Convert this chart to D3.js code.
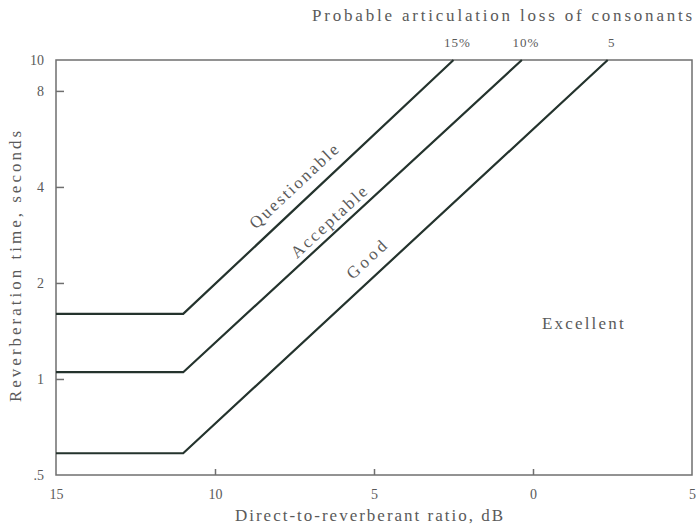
<!DOCTYPE html>
<html>
<head>
<meta charset="utf-8">
<script src="https://cdn.jsdelivr.net/npm/d3@7"></script>
<style>
	body { margin: 0; background: #fff; }
	svg text { font-family: "Liberation Serif", "DejaVu Serif", serif; fill: #5a5a5a; }
</style>
</head>
<body>
<div id="graphic"></div>
<script>
// zone boundary lines: flat floor, knee, then rising to 10 s
const zones = ["Questionable", "Acceptable", "Good"];
const kneeDb = [-11, -11, -11];
const floorT = [1.6, 1.05, 0.585];
const topDb = [-2.5, -0.35, 2.35];
const lossLabels = ["15%", "10%", "5"];

const xTicks = [-15, -10, -5, 0, 5];
const xTickLabels = ["15", "10", "5", "0", "5"];
const yTicks = [0.5, 1, 2, 4, 8, 10];
const yTickLabels = [".5", "1", "2", "4", "8", "10"];

// label anchor positions in data units (dB, seconds)
const zoneLabelDb = [-7.5, -6.4, -5.2];
const zoneLabelT = [4.05, 3.13, 2.39];

const width = 696, height = 528;
const margin = { top: 60, right: 4, bottom: 53, left: 56 };

let svg = d3.select('#graphic')
	.append('svg')
	.attr('width', width)
	.attr('height', height);

const x = d3.scaleLinear()
	.domain([-15, 5])
	.range([margin.left, width - margin.right]);

const y = d3.scaleLog()
	.domain([0.5, 10])
	.range([height - margin.bottom, margin.top]);

// frame
svg.append('rect')
	.attr('x', x(-15))
	.attr('y', y(10))
	.attr('width', x(5) - x(-15))
	.attr('height', y(0.5) - y(10))
	.attr('fill', 'none')
	.attr('stroke', '#6f6f6f')
	.attr('stroke-width', 1.5);

// x axis (ticks point into the plot)
let xAxis = d3.axisBottom(x)
	.tickValues(xTicks)
	.tickSize(-6)
	.tickPadding(14)
	.tickFormat((d, i) => xTickLabels[i]);

svg.append('g')
	.attr('class', 'x axis')
	.attr('transform', 'translate(0,' + y(0.5) + ')')
	.call(xAxis)
	.call(g => g.select('.domain').remove())
	.call(g => g.selectAll('line').attr('stroke', '#6f6f6f').attr('stroke-width', 1.5)
		.filter(d => d == -15 || d == 5).remove())
	.call(g => g.selectAll('text').attr('font-size', 14).style('font-family', '"Liberation Serif", serif').attr('fill', '#5a5a5a'));

// y axis (log)
let yAxis = d3.axisLeft(y)
	.tickValues(yTicks)
	.tickSize(-8)
	.tickPadding(12)
	.tickFormat((d, i) => yTickLabels[i]);

svg.append('g')
	.attr('class', 'y axis')
	.attr('transform', 'translate(' + x(-15) + ',0)')
	.call(yAxis)
	.call(g => g.select('.domain').remove())
	.call(g => g.selectAll('line').attr('stroke', '#6f6f6f').attr('stroke-width', 1.5)
		.filter(d => d == 0.5 || d == 10).remove())
	.call(g => g.selectAll('text').attr('font-size', 14).style('font-family', '"Liberation Serif", serif').attr('fill', '#5a5a5a'));

// boundary lines
const line = d3.line()
	.x(d => x(d[0]))
	.y(d => y(d[1]));

zones.forEach(function (z, i) {
	let pts = [[-15, floorT[i]], [kneeDb[i], floorT[i]], [topDb[i], 10]];
	svg.append('path')
		.attr('d', line(pts))
		.attr('fill', 'none')
		.attr('stroke', '#24332d')
		.attr('stroke-width', 2.2)
		.attr('stroke-linejoin', 'miter');

	let ang = Math.atan2(y(10) - y(floorT[i]), x(topDb[i]) - x(kneeDb[i])) * 180 / Math.PI;
	svg.append('text')
		.attr('transform', 'translate(' + x(zoneLabelDb[i]) + ',' + y(zoneLabelT[i]) + ') rotate(' + ang + ')')
		.attr('text-anchor', 'middle')
		.attr('dy', '0.35em')
		.attr('font-size', 17)
		.attr('letter-spacing', i == 2 ? 3.5 : 2.3)
		.text(z);

	// articulation loss labels along the top
	svg.append('text')
		.attr('x', x(topDb[i]) + 4)
		.attr('y', 47)
		.attr('text-anchor', 'middle')
		.attr('font-size', 13)
		.attr('letter-spacing', 1)
		.text(lossLabels[i]);
});

svg.append('text')
	.attr('x', x(1.6))
	.attr('y', y(1.5))
	.attr('dy', '0.35em')
	.attr('text-anchor', 'middle')
	.attr('font-size', 17)
	.attr('letter-spacing', 2.2)
	.text('Excellent');

// axis titles
svg.append('text')
	.attr('x', 312)
	.attr('y', 21)
	.attr('font-size', 17)
	.attr('letter-spacing', 2.8)
	.text('Probable articulation loss of consonants');

svg.append('text')
	.attr('x', 370)
	.attr('y', 521)
	.attr('text-anchor', 'middle')
	.attr('font-size', 17)
	.attr('letter-spacing', 2)
	.text('Direct-to-reverberant ratio, dB');

svg.append('text')
	.attr('transform', 'translate(21,' + 265 + ') rotate(-90)')
	.attr('text-anchor', 'middle')
	.attr('font-size', 17)
	.attr('letter-spacing', 3)
	.text('Reverberation time, seconds');
</script>
</body>
</html>
